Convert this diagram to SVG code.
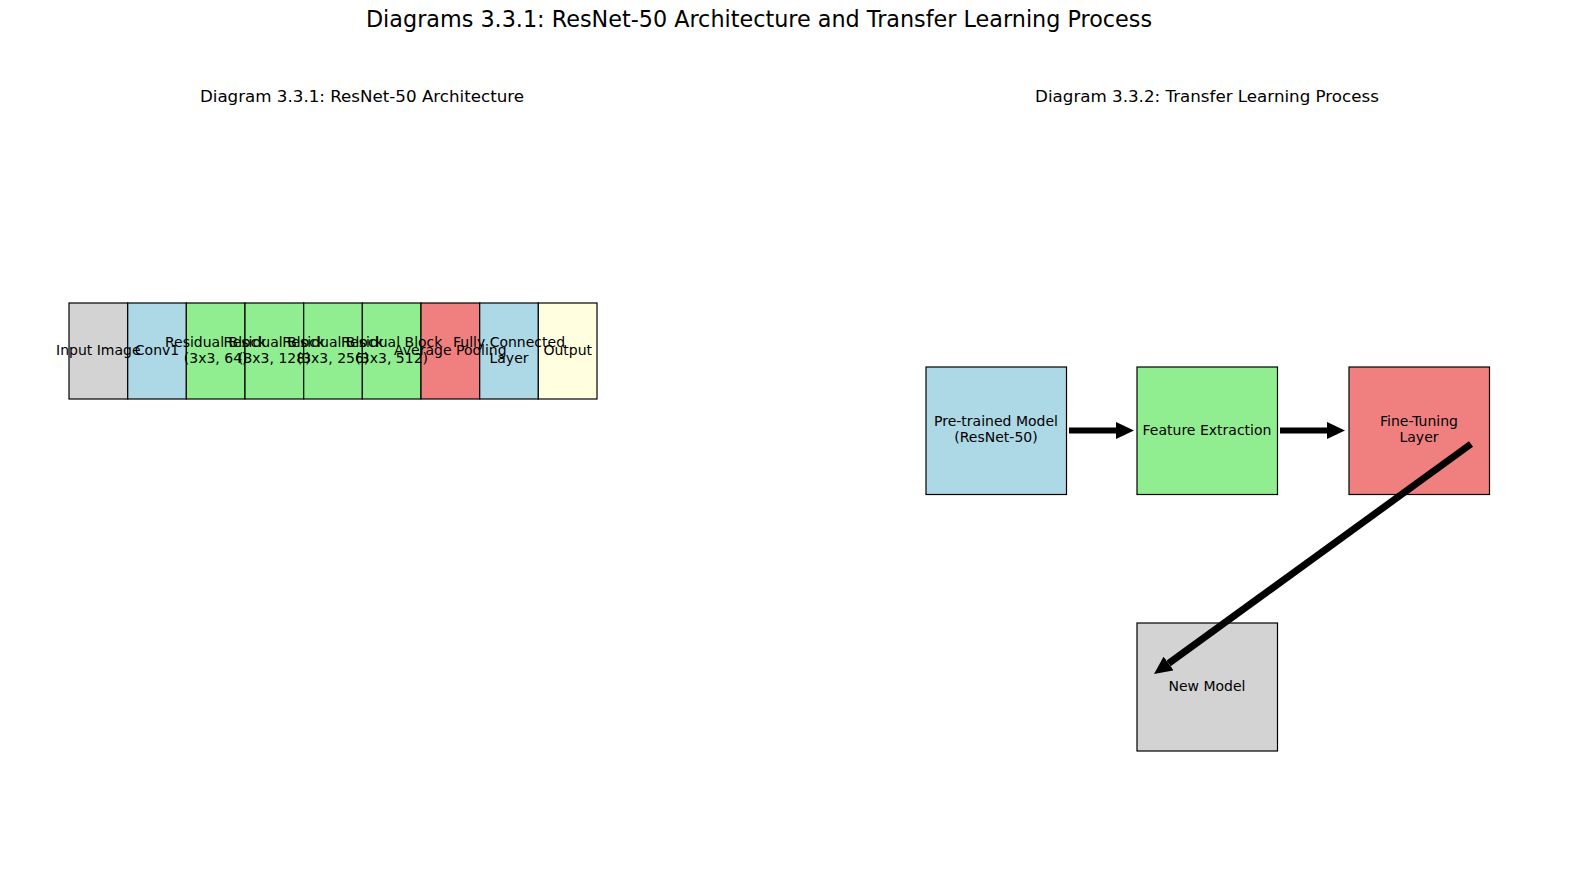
<svg xmlns="http://www.w3.org/2000/svg" width="1569" height="890" viewBox="0 0 1569 890">
<style>
text{font-family:"DejaVu Sans",sans-serif;fill:#000;text-anchor:middle}
.t{font-size:22.3px}
.s{font-size:16.7px}
.b{font-size:14px}
rect.n{stroke:#000;stroke-width:1.2}
.c{stroke:#000;stroke-width:6;fill:none}
</style>
<defs>
<marker id="ah" viewBox="0 0 18 17" refX="0" refY="8.5" markerWidth="18" markerHeight="17" markerUnits="userSpaceOnUse" orient="auto"><path d="M0,0 L18,8.5 L0,17 z" fill="#000"/></marker>
</defs>
<rect width="1569" height="890" fill="#fff"/>
<text class="t" x="759" y="27">Diagrams 3.3.1: ResNet-50 Architecture and Transfer Learning Process</text>
<text class="s" x="362" y="102">Diagram 3.3.1: ResNet-50 Architecture</text>
<text class="s" x="1207" y="102">Diagram 3.3.2: Transfer Learning Process</text>
<g id="input"><rect class="n" x="69" y="303" width="58.7" height="96" fill="#d3d3d3"/></g>
<g id="conv1"><rect class="n" x="127.7" y="303" width="58.7" height="96" fill="#add8e6"/></g>
<g id="res1"><rect class="n" x="186.3" y="303" width="58.7" height="96" fill="#90ee90"/></g>
<g id="res2"><rect class="n" x="245" y="303" width="58.7" height="96" fill="#90ee90"/></g>
<g id="res3"><rect class="n" x="303.7" y="303" width="58.7" height="96" fill="#90ee90"/></g>
<g id="res4"><rect class="n" x="362.3" y="303" width="58.7" height="96" fill="#90ee90"/></g>
<g id="avgpool"><rect class="n" x="421" y="303" width="58.7" height="96" fill="#f08080"/></g>
<g id="fc"><rect class="n" x="479.7" y="303" width="58.7" height="96" fill="#add8e6"/></g>
<g id="output"><rect class="n" x="538.3" y="303" width="58.7" height="96" fill="#ffffe0"/></g>
<g id="input-label"><text class="b" x="98.3" y="355">Input Image</text></g>
<g id="conv1-label"><text class="b" x="157" y="355">Conv1</text></g>
<g id="res1-label"><text class="b" x="215.7" y="347">Residual Block</text><text class="b" x="215.7" y="363">(3x3, 64)</text></g>
<g id="res2-label"><text class="b" x="274.3" y="347">Residual Block</text><text class="b" x="274.3" y="363">(3x3, 128)</text></g>
<g id="res3-label"><text class="b" x="333" y="347">Residual Block</text><text class="b" x="333" y="363">(3x3, 256)</text></g>
<g id="res4-label"><text class="b" x="391.7" y="347">Residual Block</text><text class="b" x="391.7" y="363">(3x3, 512)</text></g>
<g id="avgpool-label"><text class="b" x="450.3" y="355">Average Pooling</text></g>
<g id="fc-label"><text class="b" x="509" y="347">Fully Connected</text><text class="b" x="509" y="363">Layer</text></g>
<g id="output-label"><text class="b" x="567.7" y="355">Output</text></g>
<g id="pretrained"><rect class="n" x="926" y="367" width="140.5" height="127.5" fill="#add8e6"/><text class="b" x="996" y="426">Pre-trained Model</text><text class="b" x="996" y="442">(ResNet-50)</text></g>
<g id="feature"><rect class="n" x="1137" y="367" width="140.5" height="127.5" fill="#90ee90"/><text class="b" x="1207" y="435">Feature Extraction</text></g>
<g id="finetune"><rect class="n" x="1349" y="367" width="140.5" height="127.5" fill="#f08080"/><text class="b" x="1419" y="426">Fine-Tuning</text><text class="b" x="1419" y="442">Layer</text></g>
<g id="newmodel"><rect class="n" x="1137" y="623" width="140.5" height="128" fill="#d3d3d3"/><text class="b" x="1207" y="691">New Model</text></g>
<g id="connectors">
<line class="c" x1="1069" y1="430.5" x2="1116" y2="430.5" marker-end="url(#ah)"/>
<line class="c" x1="1280" y1="430.5" x2="1327" y2="430.5" marker-end="url(#ah)"/>
<line class="c" x1="1471" y1="444" x2="1168.6" y2="663.4" marker-end="url(#ah)" style="stroke-width:7"/>
</g>
</svg>
